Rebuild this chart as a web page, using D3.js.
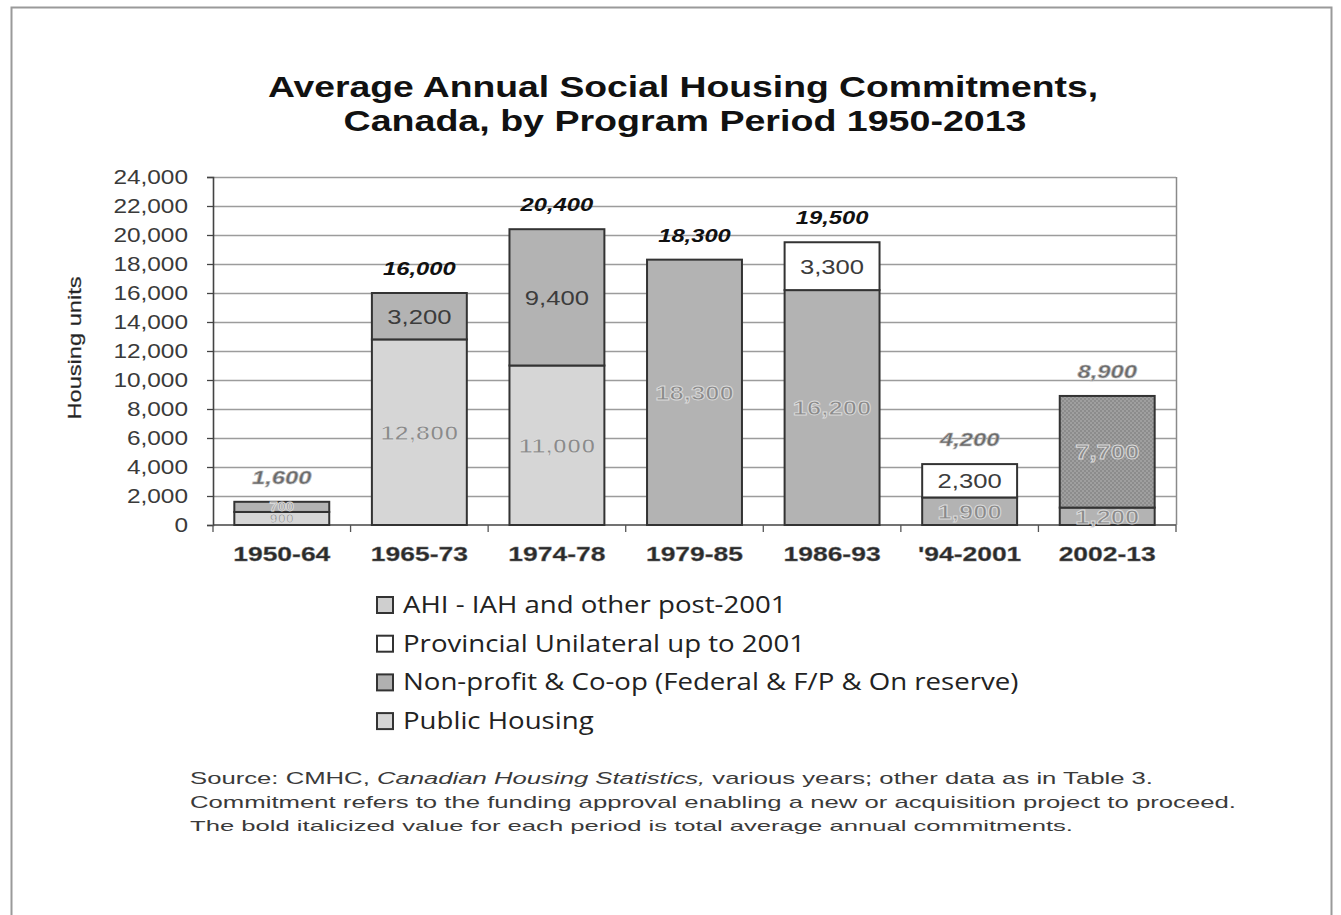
<!DOCTYPE html>
<html>
<head>
<meta charset="utf-8">
<script src="https://cdn.jsdelivr.net/npm/d3@7"></script>
<style>
  html, body { margin: 0; padding: 0; background: #fff; }
  svg { display: block; }
</style>
</head>
<body>
<svg id="chart" width="1341" height="915"></svg>
<script>
// Program periods and average annual commitments (housing units)
const periods = ["1950-64", "1965-73", "1974-78", "1979-85", "1986-93", "'94-2001", "2002-13"];
const publicHousing = [900, 12800, 11000, 0, 0, 0, 0];
const nonProfitCoop = [700, 3200, 9400, 18300, 16200, 1900, 1200];
const provincialUnilateral = [0, 0, 0, 0, 3300, 2300, 0];
const ahiPost2001 = [0, 0, 0, 0, 0, 0, 7700];
const totals = [1600, 16000, 20400, 18300, 19500, 4200, 8900];
const yTicks = [0, 2000, 4000, 6000, 8000, 10000, 12000, 14000, 16000, 18000, 20000, 22000, 24000];

const seriesKeys = ["public", "nonprofit", "provincial", "ahi"];
const seriesNames = {
  ahi: "AHI - IAH and other post-2001",
  provincial: "Provincial Unilateral up to 2001",
  nonprofit: "Non-profit & Co-op (Federal & F/P & On reserve)",
  public: "Public Housing"
};
const legendOrder = ["ahi", "provincial", "nonprofit", "public"];

const rows = periods.map((p, i) => ({
  period: p,
  public: publicHousing[i],
  nonprofit: nonProfitCoop[i],
  provincial: provincialUnilateral[i],
  ahi: ahiPost2001[i],
  total: totals[i]
}));

const svg = d3.select("#chart");
const ARIAL = "'Liberation Sans', Arial, sans-serif";
const fmt = d3.format(",");

// widen glyphs horizontally by factor f (text keeps its anchor)
function stretch(sel, f) {
  sel.each(function () {
    const len = this.getComputedTextLength();
    d3.select(this).attr("textLength", len * f).attr("lengthAdjust", "spacingAndGlyphs");
  });
}
function fitTo(sel, w) {
  sel.attr("textLength", w).attr("lengthAdjust", "spacingAndGlyphs");
}

// page frame
svg.append("path")
  .attr("d", "M11.5,915 V7.5 H1331.5 V915")
  .attr("fill", "none").attr("stroke", "#9a9a9a").attr("stroke-width", 2);

// dotted fill for the AHI series
const defs = svg.append("defs");
const pat = defs.append("pattern").attr("id", "dots")
  .attr("width", 4).attr("height", 4).attr("patternUnits", "userSpaceOnUse");
pat.append("rect").attr("width", 4).attr("height", 4).attr("fill", "#8c8c8c");
pat.append("circle").attr("cx", 1).attr("cy", 1).attr("r", 0.8).attr("fill", "#b8b8b8");
pat.append("circle").attr("cx", 3).attr("cy", 3).attr("r", 0.8).attr("fill", "#b8b8b8");

const fills = {
  public: "#d6d6d6",
  nonprofit: "#b3b3b3",
  provincial: "#ffffff",
  ahi: "url(#dots)"
};

// title
const t1 = svg.append("text")
  .attr("x", 683).attr("y", 97).attr("text-anchor", "middle")
  .attr("font-family", ARIAL).attr("font-weight", "bold")
  .attr("font-size", 30).attr("fill", "#111")
  .text("Average Annual Social Housing Commitments,");
fitTo(t1, 830);
const t2 = svg.append("text")
  .attr("x", 685).attr("y", 131).attr("text-anchor", "middle")
  .attr("font-family", ARIAL).attr("font-weight", "bold")
  .attr("font-size", 30).attr("fill", "#111")
  .text("Canada, by Program Period 1950-2013");
fitTo(t2, 683);

// plot area
const plot = { left: 213, right: 1176, top: 177, bottom: 525 };

const x = d3.scaleBand()
  .domain(periods)
  .range([plot.left, plot.right])
  .paddingInner(0.31)
  .paddingOuter(0.155);

const y = d3.scaleLinear()
  .domain([0, 24000])
  .range([plot.bottom, plot.top]);

// gridlines
svg.append("g")
  .selectAll("line")
  .data(yTicks.filter(v => v > 0))
  .join("line")
  .attr("x1", plot.left).attr("x2", plot.right)
  .attr("y1", d => Math.round(y(d)) + 0.5).attr("y2", d => Math.round(y(d)) + 0.5)
  .attr("stroke", "#9c9c9c").attr("stroke-width", 1.3);

// right edge of the plot area
svg.append("line")
  .attr("x1", plot.right + 0.5).attr("x2", plot.right + 0.5)
  .attr("y1", plot.top).attr("y2", plot.bottom)
  .attr("stroke", "#8a8a8a").attr("stroke-width", 1.5);

// y axis
const yAxis = svg.append("g")
  .attr("transform", `translate(${plot.left},0)`)
  .call(d3.axisLeft(y).tickValues(yTicks).tickSize(6).tickPadding(19)
    .tickFormat(fmt));
yAxis.select(".domain").attr("stroke", "#444").attr("stroke-width", 1.6);
yAxis.selectAll(".tick line").attr("stroke", "#444").attr("stroke-width", 1.3);
yAxis.selectAll(".tick text")
  .attr("font-family", ARIAL).attr("font-size", 20).attr("fill", "#3a3a3a")
  .call(stretch, 1.22);

// x axis with ticks at category boundaries
const xAxisG = svg.append("g").attr("transform", `translate(0,${plot.bottom})`);
xAxisG.append("line")
  .attr("x1", plot.left).attr("x2", plot.right)
  .attr("stroke", "#444").attr("stroke-width", 1.6);
xAxisG.selectAll("line.tk")
  .data(d3.range(periods.length + 1))
  .join("line").attr("class", "tk")
  .attr("x1", i => plot.left + i * (plot.right - plot.left) / periods.length)
  .attr("x2", i => plot.left + i * (plot.right - plot.left) / periods.length)
  .attr("y1", 0).attr("y2", 7)
  .attr("stroke", "#555").attr("stroke-width", 1.3);
xAxisG.selectAll("text")
  .data(periods)
  .join("text")
  .attr("x", d => x(d) + x.bandwidth() / 2)
  .attr("y", 36)
  .attr("text-anchor", "middle")
  .attr("font-family", ARIAL).attr("font-weight", "bold")
  .attr("font-size", 21).attr("fill", "#2a2a2a")
  .attr("stroke", "#777").attr("stroke-width", 0.4)
  .text(d => d)
  .call(stretch, 1.26);

// y axis title
svg.append("text")
  .attr("transform", `translate(81,348) rotate(-90)`)
  .attr("text-anchor", "middle")
  .attr("font-family", ARIAL).attr("font-size", 18).attr("fill", "#222")
  .attr("stroke", "#555").attr("stroke-width", 0.3)
  .text("Housing units")
  .call(fitTo, 143);

// stacked bars
const stacked = d3.stack().keys(seriesKeys)(rows);
const bars = svg.append("g");
stacked.forEach(layer => {
  const key = layer.key;
  bars.append("g")
    .selectAll("rect")
    .data(layer.filter(d => d[1] - d[0] > 0))
    .join("rect")
    .attr("x", d => x(d.data.period))
    .attr("width", x.bandwidth())
    .attr("y", d => y(d[1]))
    .attr("height", d => y(d[0]) - y(d[1]))
    .attr("fill", fills[key])
    .attr("stroke", "#333").attr("stroke-width", 2);
});

// segment value labels: crisp on the upper segments, embossed grey on the rest
const isCrisp = (key, d) =>
  key === "provincial" || (key === "nonprofit" && d.data.public > 1000);
const segLabels = svg.append("g");
stacked.forEach(layer => {
  const key = layer.key;
  segLabels.append("g")
    .selectAll("text")
    .data(layer.filter(d => d[1] - d[0] > 0))
    .join("text")
    .attr("x", d => x(d.data.period) + x.bandwidth() / 2)
    .attr("y", d => {
      const h = y(d[0]) - y(d[1]);
      return (y(d[0]) + y(d[1])) / 2 + (h < 16 ? 4.5 : 7.5);
    })
    .attr("text-anchor", "middle")
    .attr("font-family", ARIAL)
    .attr("font-size", d => (d[1] - d[0]) < 1000 ? 12 : 21)
    .attr("fill", d => isCrisp(key, d) ? "#3c3c3c" : "#8a8a8a")
    .attr("font-weight", d => isCrisp(key, d) ? "normal" : "bold")
    .attr("stroke", d => isCrisp(key, d) ? "none" : "#dadada")
    .attr("stroke-width", 0.9)
    .text(d => fmt(d[1] - d[0]))
    .call(stretch, 1.22);
});

// totals above each bar
svg.append("g")
  .selectAll("text")
  .data(rows)
  .join("text")
  .attr("x", d => x(d.period) + x.bandwidth() / 2)
  .attr("y", d => y(d.total) - 18)
  .attr("text-anchor", "middle")
  .attr("font-family", ARIAL).attr("font-weight", "bold").attr("font-style", "italic")
  .attr("font-size", 19)
  .attr("fill", d => d.total < 10000 ? "#6a6a6a" : "#111")
  .attr("stroke", d => d.total < 10000 ? "#bbb" : "none").attr("stroke-width", 0.6)
  .text(d => fmt(d.total))
  .call(stretch, 1.25);

// legend
const legend = svg.append("g").attr("transform", "translate(377,605)");
const legendFill = { ahi: "#cfcfcf", provincial: "#ffffff", nonprofit: "#b0b0b0", public: "#d6d6d6" };
legendOrder.forEach((k, i) => {
  const g = legend.append("g").attr("transform", `translate(0,${i * 38.7})`);
  g.append("rect").attr("x", 0).attr("y", -8).attr("width", 16).attr("height", 16)
    .attr("fill", legendFill[k]).attr("stroke", "#333").attr("stroke-width", 2);
  g.append("text").attr("x", 26).attr("y", 8)
    .attr("font-family", "'Open Sans', 'Noto Sans', sans-serif")
    .attr("font-size", 23).attr("fill", "#222")
    .text(seriesNames[k])
    .call(stretch, 1.2);
});

// source notes
const notes = svg.append("g").attr("font-family", ARIAL).attr("fill", "#3a3a3a")
  .attr("xml:space", "preserve");
const n1 = notes.append("text").attr("x", 190).attr("y", 784).attr("font-size", 17);
n1.append("tspan").text("Source: CMHC, ");
n1.append("tspan").attr("font-style", "italic").text("Canadian Housing Statistics,");
n1.append("tspan").text(" various years; other data as in Table 3.");
fitTo(n1, 963);
notes.append("text").attr("x", 190).attr("y", 808).attr("font-size", 17)
  .text("Commitment  refers to the funding approval enabling a new or acquisition project to proceed.")
  .call(fitTo, 1046);
notes.append("text").attr("x", 190).attr("y", 831).attr("font-size", 15)
  .text("The bold italicized value for each period is total average annual commitments.")
  .call(fitTo, 883);
</script>
</body>
</html>
